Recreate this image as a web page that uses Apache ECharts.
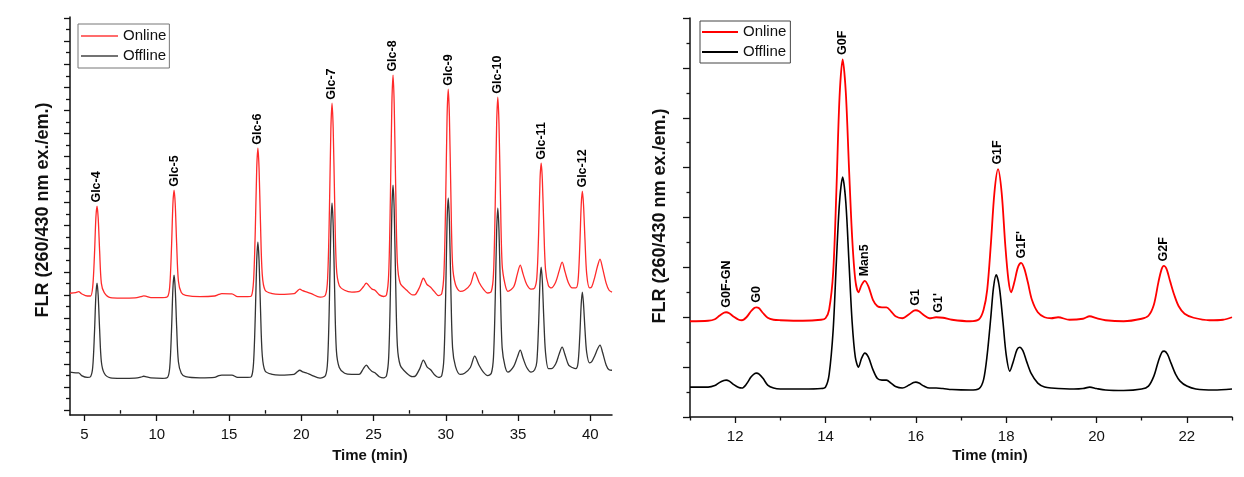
<!DOCTYPE html>
<html>
<head>
<meta charset="utf-8">
<script src="https://cdn.jsdelivr.net/npm/echarts@6/dist/echarts.min.js"></script>
<style>
html,body{margin:0;padding:0;background:#fff;}
#c{width:1244px;height:477px;}
</style>
</head>
<body>
<div id="c"></div>
<script>
// ---------- DATA ----------
// Left panel: dextran ladder, time (min) vs FLR (arbitrary units)
const leftOnline = [
 [4.0,5.07],[4.4,5.10],[4.6,5.14],[4.8,5.05],[5.2,4.95],
 [5.42,4.95],[5.57,5.34],[5.69,6.7],[5.79,8.34],[5.87,8.85],[5.95,8.34],[6.05,6.9],[6.17,5.5],[6.37,5.1],
 [6.8,4.88],[7.5,4.86],[8.5,4.87],[8.9,4.92],[9.1,4.96],[9.3,4.93],[9.6,4.88],[10.4,4.88],
 [10.75,4.92],[10.9,5.36],[11.02,7.0],[11.12,8.94],[11.2,9.54],[11.28,8.94],[11.38,7.2],[11.5,5.6],[11.7,5.1],
 [12.0,4.98],[13.0,4.92],[14.0,4.95],[14.3,5.02],[14.5,5.05],[15.2,5.04],[15.6,4.92],[16.3,4.92],
 [16.55,4.95],[16.7,5.6],[16.82,7.8],[16.92,10.5],[17.0,11.36],[17.08,10.5],[17.18,8.1],[17.3,5.9],[17.5,5.2],
 [18.0,5.05],[18.5,5.02],[19.5,5.05],[19.7,5.15],[19.9,5.25],[20.1,5.18],[20.4,5.12],[20.7,5.05],[21.3,4.90],
 [21.68,5.0],[21.83,5.8],[21.95,8.7],[22.05,12.2],[22.13,13.31],[22.21,12.2],[22.31,9.1],[22.43,6.2],[22.63,5.4],
 [23.0,5.2],[23.5,5.12],[24.0,5.15],[24.3,5.35],[24.5,5.51],[24.7,5.38],[24.9,5.25],[25.1,5.2],[25.4,5.0],[25.7,4.93],
 [25.9,5.0],[26.05,5.9],[26.17,9.3],[26.27,13.3],[26.35,14.53],[26.43,13.3],[26.53,9.8],[26.65,6.4],[26.85,5.5],
 [27.3,5.2],[27.7,5.0],[27.9,5.02],[28.2,5.35],[28.45,5.72],[28.7,5.45],[28.95,5.33],[29.2,5.15],[29.5,4.97],
 [29.72,5.05],[29.87,5.9],[29.99,9.0],[30.09,12.75],[30.17,13.92],[30.25,12.75],[30.35,9.45],[30.47,6.3],[30.67,5.45],
 [31.0,5.15],[31.3,5.2],[31.7,5.45],[32.0,5.98],[32.3,5.55],[32.6,5.25],[32.9,5.08],
 [33.15,5.15],[33.3,5.9],[33.42,8.9],[33.52,12.45],[33.6,13.57],[33.68,12.45],[33.78,9.3],[33.9,6.3],[34.1,5.45],
 [34.3,5.15],[34.7,5.35],[34.95,5.9],[35.15,6.29],[35.35,5.9],[35.6,5.45],[35.9,5.25],
 [36.15,5.3],[36.3,5.75],[36.42,7.6],[36.52,10.0],[36.6,10.71],[36.68,10.0],[36.78,8.0],[36.9,6.1],[37.1,5.4],
 [37.3,5.3],[37.6,5.55],[37.85,6.05],[38.05,6.42],[38.25,6.0],[38.5,5.5],[38.75,5.3],
 [39.0,5.3],[39.15,5.6],[39.27,7.1],[39.37,8.9],[39.45,9.50],[39.53,8.9],[39.63,7.4],[39.75,5.9],[39.95,5.3],
 [40.1,5.35],[40.3,5.75],[40.5,6.25],[40.67,6.55],[40.85,6.15],[41.1,5.5],[41.3,5.2],[41.5,5.12]
];
const leftOffline = [
 [4.0,1.65],[4.4,1.62],[4.6,1.62],[4.8,1.50],[5.2,1.42],
 [5.42,1.45],[5.57,1.85],[5.69,3.3],[5.79,4.97],[5.87,5.51],[5.95,4.97],[6.05,3.5],[6.17,2.1],[6.37,1.6],
 [6.8,1.40],[7.5,1.38],[8.5,1.39],[8.9,1.43],[9.1,1.47],[9.3,1.44],[9.6,1.40],[10.4,1.38],
 [10.75,1.42],[10.9,1.85],[11.02,3.4],[11.12,5.27],[11.2,5.85],[11.28,5.27],[11.38,3.6],[11.5,2.1],[11.7,1.6],
 [12.0,1.45],[13.0,1.40],[14.0,1.42],[14.3,1.5],[14.5,1.52],[15.2,1.52],[15.6,1.42],[16.3,1.42],
 [16.55,1.45],[16.7,2.05],[16.82,4.1],[16.92,6.5],[17.0,7.29],[17.08,6.5],[17.18,4.4],[17.3,2.4],[17.5,1.7],
 [18.0,1.55],[18.5,1.52],[19.5,1.55],[19.7,1.65],[19.9,1.73],[20.1,1.66],[20.4,1.6],[20.7,1.52],[21.3,1.39],
 [21.68,1.5],[21.83,2.2],[21.95,4.8],[22.05,8.0],[22.13,8.98],[22.21,8.0],[22.31,5.2],[22.43,2.6],[22.63,1.85],
 [23.0,1.6],[23.5,1.55],[24.0,1.55],[24.3,1.8],[24.5,1.95],[24.7,1.8],[24.9,1.68],[25.1,1.62],[25.4,1.45],[25.7,1.4],
 [25.9,1.5],[26.05,2.3],[26.17,5.2],[26.27,8.7],[26.35,9.76],[26.43,8.7],[26.53,5.6],[26.65,2.8],[26.85,1.95],
 [27.3,1.6],[27.7,1.45],[27.9,1.48],[28.2,1.8],[28.45,2.17],[28.7,1.88],[28.95,1.75],[29.2,1.55],[29.5,1.42],
 [29.72,1.5],[29.87,2.25],[29.99,4.9],[30.09,8.2],[30.17,9.19],[30.25,8.2],[30.35,5.3],[30.47,2.7],[30.67,1.9],
 [31.0,1.55],[31.3,1.6],[31.7,1.85],[32.0,2.34],[32.3,1.95],[32.6,1.65],[32.9,1.5],
 [33.15,1.6],[33.3,2.3],[33.42,4.8],[33.52,7.8],[33.6,8.76],[33.68,7.8],[33.78,5.2],[33.9,2.7],[34.1,1.9],
 [34.3,1.65],[34.7,1.9],[34.95,2.3],[35.15,2.6],[35.35,2.25],[35.6,1.85],[35.9,1.65],
 [36.15,1.75],[36.3,2.1],[36.42,3.7],[36.52,5.6],[36.6,6.2],[36.68,5.6],[36.78,4.0],[36.9,2.5],[37.1,1.8],
 [37.3,1.8],[37.6,2.0],[37.85,2.45],[38.05,2.73],[38.25,2.4],[38.5,1.95],[38.75,1.85],
 [39.0,1.8],[39.15,2.05],[39.27,3.2],[39.37,4.6],[39.45,5.12],[39.53,4.6],[39.63,3.5],[39.75,2.5],[39.95,2.05],
 [40.1,2.1],[40.3,2.35],[40.5,2.65],[40.67,2.82],[40.85,2.5],[41.1,1.95],[41.3,1.75],[41.5,1.73]
];
const leftPeakNames = ['Glc-4','Glc-5','Glc-6','Glc-7','Glc-8','Glc-9','Glc-10','Glc-11','Glc-12'];
const leftPeakTimes = [5.87,11.2,17.0,22.13,26.35,30.17,33.6,36.6,39.45];
const leftPeakValues = [8.85,9.54,11.36,13.31,14.53,13.92,13.57,10.71,9.50];

// Right panel: N-glycan profile
const rightOnline = [
 [11.0,1.92],[11.4,1.93],[11.55,1.96],[11.65,2.03],[11.75,2.09],[11.8,2.10],[11.87,2.08],[11.97,2.01],[12.08,1.95],[12.15,1.94],
 [12.25,2.0],[12.35,2.12],[12.43,2.19],[12.47,2.20],[12.53,2.18],[12.62,2.08],[12.72,1.99],[12.85,1.95],[13.0,1.94],[13.5,1.93],
 [13.9,1.95],[14.0,1.98],[14.08,2.15],[14.17,2.9],[14.24,4.5],[14.31,6.4],[14.38,7.17],[14.45,6.5],[14.52,5.0],[14.59,3.6],
 [14.66,2.75],[14.73,2.5],[14.8,2.65],[14.87,2.73],[14.95,2.62],[15.05,2.35],[15.15,2.22],[15.25,2.2],[15.35,2.20],[15.45,2.12],
 [15.55,2.02],[15.7,1.98],[15.85,2.06],[15.95,2.13],[16.0,2.14],[16.07,2.12],[16.18,2.04],[16.3,1.98],[16.45,2.0],[16.6,1.99],
 [16.8,1.95],[17.2,1.92],[17.4,1.96],[17.5,2.15],[17.58,2.55],[17.66,3.45],[17.74,4.5],[17.82,4.97],[17.9,4.5],[17.98,3.45],
 [18.05,2.75],[18.11,2.5],[18.18,2.7],[18.26,3.0],[18.33,3.09],[18.4,2.98],[18.48,2.7],[18.57,2.35],[18.7,2.1],[18.85,2.0],
 [19.0,1.98],[19.15,2.0],[19.4,1.95],[19.7,1.97],[19.85,2.02],[20.0,1.98],[20.2,1.94],[20.6,1.92],[21.0,1.97],[21.15,2.03],
 [21.27,2.25],[21.37,2.7],[21.44,2.96],[21.49,3.03],[21.55,2.97],[21.63,2.72],[21.72,2.45],[21.82,2.22],[21.95,2.07],[22.15,1.99],
 [22.5,1.94],[22.8,1.95],[23.0,2.0]
];
const rightOffline = [
 [11.0,0.60],[11.4,0.60],[11.55,0.63],[11.65,0.69],[11.75,0.73],[11.8,0.74],[11.87,0.72],[11.97,0.65],[12.08,0.59],[12.15,0.58],
 [12.25,0.66],[12.35,0.8],[12.43,0.87],[12.47,0.88],[12.53,0.86],[12.62,0.77],[12.72,0.64],[12.85,0.58],[13.0,0.56],[13.5,0.56],
 [13.9,0.57],[14.0,0.6],[14.08,0.85],[14.17,1.75],[14.24,3.1],[14.31,4.3],[14.38,4.81],[14.45,4.3],[14.52,3.1],[14.59,1.9],
 [14.66,1.2],[14.73,1.00],[14.8,1.18],[14.87,1.28],[14.95,1.2],[15.05,0.95],[15.15,0.77],[15.25,0.74],[15.35,0.74],[15.45,0.68],
 [15.55,0.61],[15.7,0.58],[15.85,0.64],[15.95,0.69],[16.0,0.70],[16.07,0.68],[16.18,0.62],[16.3,0.58],[16.45,0.58],[16.6,0.57],
 [16.8,0.55],[17.2,0.54],[17.4,0.57],[17.5,0.75],[17.58,1.25],[17.66,2.0],[17.72,2.6],[17.78,2.85],[17.85,2.6],[17.93,1.9],
 [18.0,1.25],[18.08,0.92],[18.16,1.12],[18.24,1.35],[18.3,1.40],[18.37,1.33],[18.45,1.12],[18.55,0.88],[18.7,0.68],[18.85,0.6],
 [19.0,0.58],[19.5,0.56],[19.7,0.57],[19.85,0.60],[20.0,0.57],[20.2,0.54],[20.6,0.53],[21.0,0.56],[21.15,0.62],[21.27,0.82],
 [21.37,1.12],[21.45,1.3],[21.5,1.32],[21.57,1.26],[21.65,1.08],[21.75,0.86],[21.85,0.72],[22.0,0.62],[22.2,0.56],[22.6,0.54],
 [23.0,0.56]
];
const rightPeakNames = ['G0F-GN','G0','G0F','Man5','G1',"G1'",'G1F',"G1F'",'G2F'];
const rightPeakTimes = [11.8,12.47,14.38,14.87,16.0,16.5,17.82,18.33,21.49];
const rightPeakValues = [2.10,2.20,7.17,2.73,2.14,2.00,4.97,3.09,3.03];

// Tick values
const leftXLabels = [5,10,15,20,25,30,35,40];
const leftXMinor = [7.5,12.5,17.5,22.5,27.5,32.5,37.5];
const leftYMajor = [0,1,2,3,4,5,6,7,8,9,10,11,12,13,14,15,16,17];
const leftYMinor = [0.5,1.5,2.5,3.5,4.5,5.5,6.5,7.5,8.5,9.5,10.5,11.5,12.5,13.5,14.5,15.5,16.5];
const rightXLabels = [12,14,16,18,20,22];
const rightXMinor = [11,13,15,17,19,21,23];

const yTitle = 'FLR (260/430 nm ex./em.)';
const xTitle = 'Time (min)';
const seriesNames = ['Online','Offline'];

// ---------- CHART ----------
const chart = echarts.init(document.getElementById('c'), null, {renderer:'canvas'});
const FONT = 'Arial, "Liberation Sans", sans-serif';
const axisLineStyle = {color:'#111', width:1.5};

function mainX(grid, min, max, labels){
  return {type:'value', gridIndex:grid, min:min, max:max, position:'bottom',
    axisLine:{show:true, onZero:false, lineStyle:axisLineStyle},
    axisTick:{show:true, inside:false, length:6, customValues:labels, lineStyle:{color:'#111', width:1.3}},
    axisLabel:{show:true, customValues:labels, margin:12, color:'#111', fontSize:15, fontFamily:FONT},
    splitLine:{show:false}};
}
function minorX(grid, min, max, ticks){
  return {type:'value', gridIndex:grid, min:min, max:max, position:'bottom',
    axisLine:{show:false},
    axisTick:{show:true, inside:false, length:3.5, customValues:ticks, lineStyle:{color:'#111', width:1.3}},
    axisLabel:{show:false}, splitLine:{show:false}};
}
function labelSeries(xi, yi, names, times, vals, fs, dist){
  return {type:'scatter', xAxisIndex:xi, yAxisIndex:yi, symbol:'circle', symbolSize:1, silent:true,
    itemStyle:{color:'rgba(255,255,255,0)'}, z:5,
    data: names.map((n,i)=>({value:[times[i], vals[i]], name:n})),
    label:{show:true, position:'top', distance:dist, rotate:90, align:'left', verticalAlign:'middle',
      formatter:p=>p.name, color:'#000', opacity:1, textBorderWidth:0, fontSize:fs, fontWeight:'bold', fontFamily:FONT}};
}

const option = {
  backgroundColor:'#ffffff',
  animation:false,
  grid:[
    {left:70, top:17, width:542, height:398},
    {left:690, top:18, width:542, height:399}
  ],
  xAxis:[
    mainX(0, 4, 41.5, leftXLabels),
    minorX(0, 4, 41.5, leftXMinor),
    mainX(1, 11, 23, rightXLabels),
    minorX(1, 11, 23, rightXMinor)
  ],
  yAxis:[
    {type:'value', gridIndex:0, min:-0.21, max:17.05, position:'left',
      axisLine:{show:true, onZero:false, lineStyle:axisLineStyle},
      axisTick:{show:true, length:6, customValues:leftYMajor, lineStyle:{color:'#111', width:1.3}},
      axisLabel:{show:false}, splitLine:{show:false}},
    {type:'value', gridIndex:0, min:-0.21, max:17.05, position:'left',
      axisLine:{show:false},
      axisTick:{show:true, length:4, customValues:leftYMinor, lineStyle:{color:'#111', width:1.3}},
      axisLabel:{show:false}, splitLine:{show:false}},
    {type:'value', gridIndex:1, min:0, max:8, interval:1, position:'left',
      axisLine:{show:true, onZero:false, lineStyle:axisLineStyle},
      axisTick:{show:true, length:7, lineStyle:{color:'#111', width:1.3}},
      minorTick:{show:true, splitNumber:2, length:3.5, lineStyle:{color:'#111', width:1.3}},
      axisLabel:{show:false}, splitLine:{show:false}, minorSplitLine:{show:false}}
  ],
  legend:[
    {left:78, top:24, orient:'vertical', padding:[4,3,4,3], itemGap:4, itemWidth:37, itemHeight:1.5, icon:'rect',
      borderColor:'#777', borderWidth:1, backgroundColor:'#fff',
      textStyle:{fontSize:15, fontFamily:FONT, color:'#111', lineHeight:16},
      data:[{name:seriesNames[0], itemStyle:{color:'#ff3b3b'}},{name:seriesNames[1], itemStyle:{color:'#444'}}]},
    {left:700, top:21, orient:'vertical', padding:[3,4,3,2], itemGap:4, itemWidth:36, itemHeight:2, icon:'rect',
      borderColor:'#444', borderWidth:1, backgroundColor:'#fff',
      textStyle:{fontSize:15, fontFamily:FONT, color:'#111', lineHeight:16},
      data:[{name:seriesNames[0], itemStyle:{color:'#ff0000'}},
            {name:seriesNames[1], itemStyle:{color:'#000'}}]}
  ],
  graphic:[
    {type:'text', x:43, y:210, rotation:Math.PI/2, style:{text:yTitle, font:'bold 18px '+FONT, fill:'#111', textAlign:'center', textVerticalAlign:'middle'}},
    {type:'text', x:660, y:216, rotation:Math.PI/2, style:{text:yTitle, font:'bold 18px '+FONT, fill:'#111', textAlign:'center', textVerticalAlign:'middle'}},
    {type:'text', x:370, y:456, style:{text:xTitle, font:'bold 15px '+FONT, fill:'#111', textAlign:'center', textVerticalAlign:'middle'}},
    {type:'text', x:990, y:456, style:{text:xTitle, font:'bold 15px '+FONT, fill:'#111', textAlign:'center', textVerticalAlign:'middle'}}
  ],
  series:[
    {name:seriesNames[0], type:'line', xAxisIndex:0, yAxisIndex:0, data:leftOnline, symbol:'none', showSymbol:false,
      smooth:0.3, lineStyle:{color:'#ff2a2a', width:1.3}, itemStyle:{color:'#ff2a2a'}},
    {name:seriesNames[1], type:'line', xAxisIndex:0, yAxisIndex:0, data:leftOffline, symbol:'none', showSymbol:false,
      smooth:0.3, lineStyle:{color:'#333', width:1.3}, itemStyle:{color:'#333'}},
    {name:seriesNames[0], type:'line', xAxisIndex:2, yAxisIndex:2, data:rightOnline, symbol:'none', showSymbol:false,
      smooth:0.3, lineStyle:{color:'#ff0000', width:1.8}, itemStyle:{color:'#ff0000'}},
    {name:seriesNames[1], type:'line', xAxisIndex:2, yAxisIndex:2, data:rightOffline, symbol:'none', showSymbol:false,
      smooth:0.3, lineStyle:{color:'#000', width:1.6}, itemStyle:{color:'#000'}},
    labelSeries(0, 0, leftPeakNames, leftPeakTimes, leftPeakValues, 12.5, 3),
    labelSeries(2, 2, rightPeakNames, rightPeakTimes, rightPeakValues, 12.5, 4)
  ]
};
chart.setOption(option);
</script>
</body>
</html>
